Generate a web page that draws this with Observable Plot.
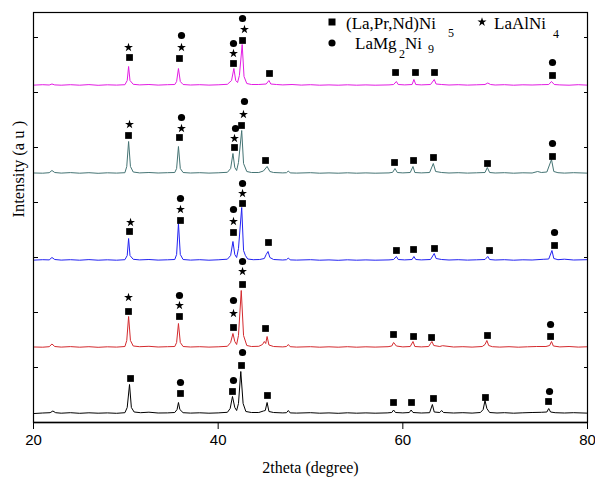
<!DOCTYPE html>
<html><head><meta charset="utf-8">
<script src="https://cdn.jsdelivr.net/npm/d3@7"></script>
<script src="https://cdn.jsdelivr.net/npm/@observablehq/plot@0.6"></script>
<style>html,body{margin:0;padding:0;background:#fff;} #chart svg{display:block;}</style>
</head><body><div id="chart"></div>
<script>
// ---- data (2theta in degrees, intensity in arbitrary units) ----
const xTicks = [20, 40, 60, 80];
const yTicks = [55, 110, 165, 220, 275, 330, 385];
const seriesNames = ["S1", "S2", "S3", "S4", "S5"];
const seriesOffsets = [9, 75, 162, 249, 337];
const seriesColors = ["#000000", "#d42a2e", "#2222f2", "#457474", "#e31ce3"];

const profile1 = [[20.1,0],[21,0.5],[21.8,0.8],[22.1,2.5],[22.4,0.8],[23,0.3],[24,0.8],[25,0.2],[26,0.7],[27,0.3],[28,0.6],[29,0.2],[29.9,0.8],[30.15,6],[30.4,29],[30.6,6],[30.9,1.5],[31.6,0.8],[32.5,1.3],[33.5,0.5],[34.5,0.6],[35.3,1],[35.55,4],[35.7,11],[35.85,4],[36.2,0.8],[37,0.4],[38,0.7],[39,0.3],[40,0.6],[41,1.2],[41.3,5],[41.55,17],[41.8,6],[42.0,3],[42.2,10],[42.45,42],[42.7,10],[43.0,2],[43.6,1],[44.4,1],[44.9,2.5],[45.1,3],[45.3,11],[45.5,2],[46,1],[47,0.6],[47.4,0.8],[47.6,3],[47.8,0.6],[48.5,0.4],[50,0.8],[51,0.3],[52,0.6],[53,0.2],[54,0.7],[55,0.3],[56,0.6],[57,0.3],[58.3,0.6],[58.8,1],[59.0,3.5],[59.2,1],[60,0.6],[60.7,1],[60.9,3.5],[61.1,1],[62,0.5],[62.9,0.8],[63.2,9],[63.4,1.5],[64.0,1],[64.2,3],[64.4,1],[65.5,0.5],[66.5,0.8],[67.5,0.4],[68.4,1],[68.7,4],[68.9,13],[69.1,5],[69.4,1],[70.2,0.5],[71,0.8],[72,0.3],[73,0.7],[74,1],[75,1.2],[75.6,1.5],[75.8,5],[76.0,1.5],[76.5,0.8],[77.5,0.5],[78.5,0.8],[79.9,0.4]];
const profile2 = [[20.1,0.5],[21,0.3],[21.7,0.8],[22.0,3.5],[22.3,1],[23,0.4],[24,0.9],[25,0.3],[26,0.8],[27,0.2],[28,0.7],[29,0.4],[29.9,1],[30.1,7],[30.3,31],[30.5,7],[30.8,1.5],[31.5,0.8],[32.5,1.2],[33.5,0.5],[34.5,0.8],[35.3,1],[35.5,5],[35.7,24],[35.9,5],[36.2,1],[37,0.5],[38,0.8],[39,0.4],[40,0.7],[41,1.2],[41.35,5],[41.6,14],[41.8,6],[42.0,3],[42.2,12],[42.5,57],[42.75,12],[43.1,2],[43.6,1],[44.4,1.2],[44.8,3],[45.0,6],[45.15,4],[45.3,11],[45.5,2.5],[46,1],[47,0.6],[47.4,1],[47.6,3],[47.8,0.8],[48.5,0.4],[50,0.8],[51,0.3],[52,0.7],[53,0.3],[54,0.8],[55,0.3],[56,0.7],[57,0.4],[58.4,0.8],[58.8,1.5],[59.0,5],[59.3,1.5],[60,0.6],[60.8,1],[61.1,6],[61.3,1],[62,0.6],[62.8,1],[63.0,4],[63.15,6],[63.35,2],[64,1],[64.3,1.8],[65.5,0.5],[66.5,0.8],[67.5,0.4],[68.6,1],[68.9,3],[69.1,7],[69.3,2],[69.7,0.8],[70.5,0.4],[71.5,0.8],[72.5,0.3],[73.5,0.7],[74.5,1],[75.5,1],[75.9,2],[76.1,6],[76.3,1.5],[77,0.6],[78,1],[79,0.4],[79.9,0.7]];
const profile3 = [[20.1,0.4],[21,0.8],[21.7,0.6],[22.0,3],[22.3,1],[23,0.4],[24,0.8],[25,0.3],[26,0.9],[27,0.3],[28,0.7],[29,0.3],[29.9,0.8],[30.15,5],[30.3,22],[30.45,5],[30.8,1.2],[31.5,0.6],[32.5,1],[33.5,0.4],[34.5,0.7],[35.3,1],[35.5,6],[35.7,37],[35.9,6],[36.2,1],[37,0.4],[38,0.8],[39,0.3],[40,0.7],[41,1.3],[41.35,5],[41.6,19],[41.8,6],[42.0,3],[42.2,12],[42.55,53],[42.75,10],[42.95,5],[43.2,1.5],[43.8,0.8],[44.5,1],[45.0,2],[45.2,6],[45.4,9],[45.6,3],[46,1],[47,0.5],[47.4,0.8],[47.6,2.5],[47.8,0.6],[48.5,0.4],[50,0.8],[51,0.3],[52,0.6],[53,0.2],[54,0.7],[55,0.3],[56,0.6],[57,0.3],[58.5,0.6],[59.0,1],[59.3,4],[59.5,1],[60.2,0.6],[61.0,1],[61.2,4],[61.4,1],[62,0.6],[63.0,1],[63.4,7],[63.6,2],[64.2,1],[65,0.5],[66,0.8],[67,0.4],[68,0.7],[68.9,1],[69.2,4],[69.4,1],[70,0.5],[71,0.8],[72,0.3],[73,0.7],[74,0.5],[75.2,1.2],[75.8,1.5],[76.15,10],[76.35,2],[76.8,0.8],[77.5,1.3],[78.5,0.5],[79.9,0.8]];
const profile4 = [[20.1,0.5],[21,0.3],[21.7,0.8],[22.0,3],[22.3,1],[23,0.4],[24,0.9],[25,0.3],[26,0.8],[27,0.2],[28,0.7],[29,0.4],[29.9,0.8],[30.1,7],[30.3,32],[30.5,7],[30.8,1.5],[31.5,0.6],[32.5,1],[33.5,0.5],[34.5,0.8],[35.3,1],[35.5,5],[35.7,27],[35.9,5],[36.2,1],[37,0.5],[38,0.8],[39,0.4],[40,0.7],[41,1.2],[41.35,5],[41.6,20],[41.8,6],[42.0,3],[42.2,11],[42.55,43],[42.75,10],[43.1,2],[43.6,1],[44.4,1],[44.9,2.5],[45.3,7],[45.6,2],[46,1],[47,0.6],[47.4,0.8],[47.6,2.5],[47.8,0.6],[48.5,0.4],[50,0.8],[51,0.3],[52,0.6],[53,0.3],[54,0.7],[55,0.3],[56,0.6],[57,0.3],[58.5,0.6],[58.9,1.2],[59.15,5],[59.4,1],[60,0.6],[60.8,1],[61.1,7],[61.3,1],[62,0.6],[62.9,1],[63.3,10],[63.55,2],[64.2,1],[65,0.5],[66,0.8],[67,0.4],[68,0.7],[68.9,1],[69.15,6],[69.4,1],[70,0.5],[71,0.8],[72,0.3],[73,0.7],[74,0.5],[74.6,2],[75,1],[75.6,1.5],[76.1,14],[76.35,2],[76.8,0.8],[77.5,0.4],[78.5,0.8],[79.9,0.4]];
const profile5 = [[20.1,0.4],[21,0.8],[21.7,0.5],[22.0,1.5],[22.3,0.6],[23,0.3],[24,0.8],[25,0.3],[26,0.9],[27,0.2],[28,0.7],[29,0.4],[29.9,0.8],[30.15,5],[30.3,19],[30.45,5],[30.8,1.2],[31.5,0.6],[32.5,1],[33.5,0.4],[34.5,0.8],[35.3,1],[35.5,4],[35.7,17],[35.9,4],[36.2,1],[37,0.5],[38,0.8],[39,0.4],[40,0.7],[41,1.2],[41.45,5],[41.7,17],[41.9,5],[42.1,3],[42.3,10],[42.6,41],[42.8,9],[43.1,2],[43.6,1],[44.4,1],[45.2,1.5],[45.5,5],[45.7,1.5],[46.3,1],[47,0.6],[48,1],[49,0.4],[50,0.8],[51,0.3],[52,0.6],[53,0.3],[54,0.7],[55,0.3],[56,0.6],[57,0.3],[58.5,0.6],[59.0,1],[59.3,4],[59.5,1],[60.2,0.6],[61.0,1],[61.2,6],[61.4,1],[62,0.6],[63.0,1],[63.4,6],[63.6,1.5],[64.2,1],[65,0.5],[66,0.8],[67,0.4],[68,0.7],[68.9,1],[69.2,2.5],[69.5,1],[70,0.5],[71,0.8],[72,0.3],[73,0.7],[74,0.5],[75,0.8],[75.8,1],[76.1,4],[76.4,1],[77,0.6],[78,0.3],[79,0.8],[79.9,0.4]];
const profiles = [profile1, profile2, profile3, profile4, profile5];

// phase markers [2theta, intensity]
const squareMarks = [
  [30.51,44],[35.92,29],[41.55,31],[42.53,57],[45.34,27],[58.99,20],[60.94,20],[63.32,24],[68.95,25],[75.78,21],
  [30.29,111],[35.81,106],[41.66,95],[42.64,138],[45.13,94],[58.99,88],[61.16,86],[63.11,85],[69.17,87],[76.00,86],
  [30.40,191],[35.92,202],[41.66,190],[42.64,219],[45.45,180],[59.31,172],[61.16,173],[63.43,174],[69.39,172],[76.43,177],
  [30.29,287],[35.81,285],[41.77,275],[42.53,297],[45.13,262],[59.10,260],[61.16,262],[63.32,265],[69.17,259],[76.21,266],
  [30.40,365],[35.81,364],[41.66,359],[42.64,382],[45.56,349],[59.21,350],[61.37,350],[63.43,350],[76.21,347]
];
const starMarks = [
  [30.29,125],[35.81,117],[41.66,109],[42.64,151],
  [30.51,200],[35.92,213],[41.66,201],[42.64,229],
  [30.40,298],[36.03,294],[41.77,284],[42.74,308],
  [30.29,375],[36.03,375],[41.66,369],[42.85,393]
];
const circleMarks = [
  [35.92,40],[41.66,42],[42.64,70],[75.89,31],
  [35.81,127],[41.66,122],[42.64,161],[76.00,98],
  [35.92,224],[41.66,213],[42.64,239],[76.43,190],
  [36.03,305],[41.88,294],[42.85,321],[76.21,279],
  [36.03,387],[41.66,379],[42.64,404],[76.21,360]
];
const xTitle = "2theta (degree)";
const yTitle = "Intensity (a u )";

const serif = "'Liberation Serif', 'Times New Roman', Times, serif";
const sans = "'Liberation Sans', Arial, Helvetica, sans-serif";

const lineMarks = profiles.map((p, i) => Plot.line(p, {
  x: d => d[0], y: d => d[1] + seriesOffsets[i], stroke: seriesColors[i], strokeWidth: 1
}));

const plot = Plot.plot({
  width: 595, height: 482,
  marginLeft: 33, marginRight: 8, marginTop: 12, marginBottom: 60,
  style: {fontFamily: sans, fontSize: "15px", background: "#fff", color: "#000"},
  x: {domain: [20, 80]},
  y: {domain: [0, 410]},
  marks: [
    ...lineMarks,
    Plot.dot(squareMarks, {x: d => d[0], y: d => d[1], symbol: "square", r: 3.8, fill: "#000", stroke: "none"}),
    Plot.dot(starMarks, {x: d => d[0], y: d => d[1], symbol: "star", r: 2.8, fill: "#000", stroke: "none"}),
    Plot.dot(circleMarks, {x: d => d[0], y: d => d[1], symbol: "circle", r: 3.6, fill: "#000", stroke: "none"}),
    Plot.axisX({ticks: xTicks, tickSize: 7, tickPadding: 5, fontSize: 15, label: null}),
    Plot.axisY({anchor: "left", ticks: yTicks, tickSize: 5, dx: 5, tickFormat: () => "", label: null}),
    Plot.axisY({anchor: "right", ticks: yTicks, tickSize: 4, dx: -4, tickFormat: () => "", label: null}),
    Plot.frame({stroke: "#000", strokeWidth: 1.2}),
    Plot.ruleY([0], {stroke: "#000", strokeWidth: 1.6}),
    Plot.text([xTitle], {frameAnchor: "bottom", dy: 50, fontSize: 16, fill: "#000"}),
    Plot.text([yTitle], {frameAnchor: "left", dx: -15, rotate: -90, fontSize: 16.5, fill: "#000"})
  ]
});
document.getElementById("chart").appendChild(plot);

const svg = d3.select(plot);
// enforce fonts
svg.selectAll("text").each(function () {
  const t = this.textContent;
  if (t === xTitle) {
    this.style.setProperty("font-family", serif, "important");
    this.style.setProperty("font-size", "16px");
  } else if (t === yTitle) {
    this.style.setProperty("font-family", serif, "important");
    this.style.setProperty("font-size", "16.5px");
  } else if (xTicks.map(String).includes(t)) {
    this.style.setProperty("font-family", sans, "important");
  }
});

// legend (drawn inside the SVG)
const g = svg.append("g").attr("fill", "#000").attr("text-anchor", "start")
  .style("font-family", serif).style("text-anchor", "start");
const sym = (type, size, x, y) => g.append("path").attr("d", d3.symbol(type, size)()).attr("transform", `translate(${x},${y})`);
const txt = (s, x, y, fs) => g.append("text").attr("x", x).attr("y", y).style("font-size", fs + "px").text(s);
sym(d3.symbolSquare, 49, 332, 22);
txt("(La,Pr,Nd)Ni", 346, 29, 17); txt("5", 448, 37, 12);
sym(d3.symbolStar, 26, 482, 22);
txt("LaAlNi", 494, 29, 17); txt("4", 553, 38, 12);
sym(d3.symbolCircle, 40, 332, 43);
txt("LaMg", 355, 49, 17); txt("2", 399, 58, 12); txt("Ni", 405, 49, 17); txt("9", 428, 53, 12);
</script></body></html>
